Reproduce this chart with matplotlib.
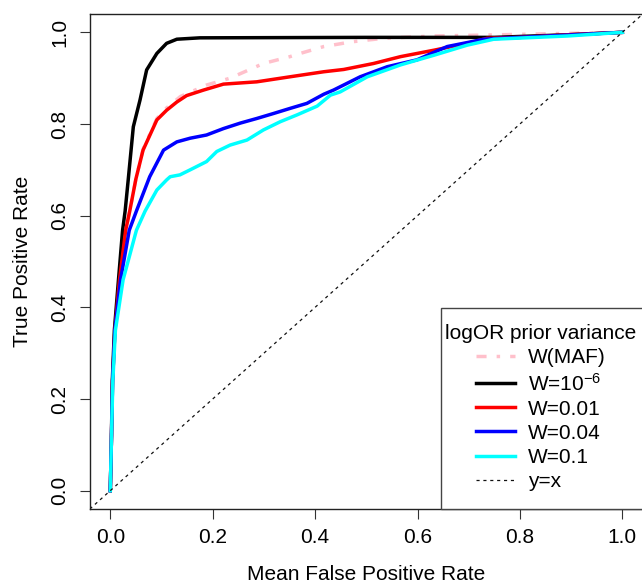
import matplotlib
matplotlib.use("Agg")
import matplotlib.pyplot as plt
from matplotlib.patches import Rectangle

plt.rcParams['font.family'] = ['Liberation Sans', 'DejaVu Sans']
plt.rcParams['mathtext.fontset'] = 'custom'
plt.rcParams['mathtext.rm'] = 'Liberation Sans'
plt.rcParams['mathtext.it'] = 'Liberation Sans'
plt.rcParams['mathtext.default'] = 'regular'

# ---- data ----
maf_x = [0, 0.002, 0.0045, 0.009, 0.018, 0.030, 0.038, 0.050, 0.064, 0.091, 0.11, 0.137,
         0.188, 0.234, 0.299, 0.351, 0.371, 0.417, 0.449, 0.469, 0.534, 0.632, 0.73, 0.86, 1.0]
maf_y = [0, 0.10, 0.24, 0.35, 0.46, 0.568, 0.61, 0.68, 0.745, 0.812, 0.835, 0.860,
         0.885, 0.900, 0.932, 0.947, 0.954, 0.969, 0.975, 0.979, 0.987, 0.992, 0.994, 0.997, 1.0]

w6_x = [0, 0.002, 0.004, 0.008, 0.016, 0.024, 0.029, 0.035, 0.045, 0.058, 0.071, 0.091,
        0.110, 0.130, 0.175, 0.50, 0.75, 0.90, 1.0]
w6_y = [0, 0.10, 0.24, 0.35, 0.46, 0.568, 0.61, 0.678, 0.794, 0.852, 0.918, 0.954,
        0.976, 0.985, 0.988, 0.989, 0.989, 0.995, 1.0]

w01_x = [0, 0.002, 0.0045, 0.009, 0.018, 0.030, 0.038, 0.050, 0.064, 0.091, 0.11, 0.13,
         0.149, 0.182, 0.221, 0.286, 0.351, 0.417, 0.456, 0.514, 0.567, 0.632, 0.697,
         0.736, 0.80, 0.90, 1.0]
w01_y = [0, 0.10, 0.24, 0.35, 0.46, 0.568, 0.61, 0.68, 0.743, 0.809, 0.830, 0.848,
         0.862, 0.874, 0.887, 0.892, 0.903, 0.914, 0.919, 0.932, 0.947, 0.961, 0.976,
         0.987, 0.989, 0.995, 1.0]

w04_x = [0, 0.002, 0.0045, 0.009, 0.020, 0.037, 0.051, 0.077, 0.104, 0.13, 0.156,
         0.188, 0.221, 0.254, 0.286, 0.319, 0.351, 0.384, 0.417, 0.436, 0.488, 0.541,
         0.599, 0.658, 0.73, 0.762, 0.893, 1.0]
w04_y = [0, 0.10, 0.24, 0.35, 0.46, 0.568, 0.61, 0.685, 0.743, 0.761, 0.769,
         0.776, 0.790, 0.802, 0.812, 0.823, 0.834, 0.845, 0.865, 0.874, 0.903, 0.925,
         0.940, 0.969, 0.985, 0.987, 0.994, 1.0]

w1_x = [0, 0.002, 0.005, 0.010, 0.025, 0.051, 0.068, 0.091, 0.11, 0.117, 0.136, 0.156,
        0.188, 0.208, 0.234, 0.267, 0.299, 0.332, 0.365, 0.404, 0.43, 0.449, 0.502,
        0.567, 0.632, 0.697, 0.749, 0.893, 1.0]
w1_y = [0, 0.10, 0.24, 0.35, 0.46, 0.568, 0.61, 0.656, 0.678, 0.685, 0.689, 0.700,
        0.718, 0.740, 0.754, 0.765, 0.787, 0.805, 0.820, 0.839, 0.863, 0.870, 0.903,
        0.929, 0.950, 0.972, 0.985, 0.992, 1.0]

labels = ['W(MAF)', 'W=10$^{-6}$', 'W=0.01', 'W=0.04', 'W=0.1', 'y=x']
legend_title = 'logOR prior variance'
tick_vals = [0.0, 0.2, 0.4, 0.6, 0.8, 1.0]
tick_labels = ['0.0', '0.2', '0.4', '0.6', '0.8', '1.0']

# ---- figure ----
W, H = 642, 583
FS = 15
fig = plt.figure(figsize=(W / 100, H / 100), dpi=100)
ax_l, ax_b, ax_w, ax_h = 89.8, 509, 553, 495
ax = fig.add_axes([ax_l / W, (H - ax_b) / H, ax_w / W, ax_h / H])

def ax_xy(px, py):
    return ((px - ax_l) / ax_w, (ax_b - py) / ax_h)

lw = 2.5
ax.plot(maf_x, maf_y, color='#FFC0CB', lw=lw, linestyle=(0, (2.9, 2.9, 1.0, 2.9)), label=labels[0])
ax.plot(w6_x, w6_y, color='black', lw=lw, label=labels[1])
ax.plot(w01_x, w01_y, color='red', lw=lw, label=labels[2])
ax.plot(w04_x, w04_y, color='blue', lw=lw, label=labels[3])
ax.plot(w1_x, w1_y, color='cyan', lw=lw, label=labels[4])
ax.axline((0, 0), (1, 1), color='#111111', lw=0.9, linestyle=(0, (2.5, 3.0)), label=labels[5])

ax.set_xlim(-0.04, 1.04)
ax.set_ylim(-0.04, 1.04)
ax.set_xticks(tick_vals)
ax.set_xticklabels(tick_labels)
ax.set_yticks(tick_vals)
ax.set_yticklabels(tick_labels, rotation=90, va='center')
ax.tick_params(axis='both', labelsize=FS, length=7, width=0.8, color='#333333')
ax.tick_params(axis='x', pad=7)
ax.tick_params(axis='y', pad=8)
for s in ax.spines.values():
    s.set_linewidth(1.0)
    s.set_color('#222222')

ax.set_xlabel('Mean False Positive Rate', fontsize=FS, labelpad=13)
ax.set_ylabel('True Positive Rate', fontsize=FS, labelpad=13)

# legend frame (R-style box, running off the right edge)
fx, fy = ax_xy(441, 509)
_, fy2 = ax_xy(441, 308)
ax.add_patch(Rectangle((fx, fy), 0.5, fy2 - fy, transform=ax.transAxes, clip_on=False,
                       facecolor='white', edgecolor='#444444', lw=1.0, zorder=4))

lx, ly = ax_xy(445, 324)
leg = ax.legend(loc='upper left', bbox_to_anchor=(lx, ly), borderaxespad=0, borderpad=0,
                fontsize=FS, title=legend_title, title_fontsize=FS, frameon=False,
                handlelength=1.87, handletextpad=0.62, labelspacing=0.25)
leg.set_zorder(5)

fig.savefig('out.png', dpi=100)
